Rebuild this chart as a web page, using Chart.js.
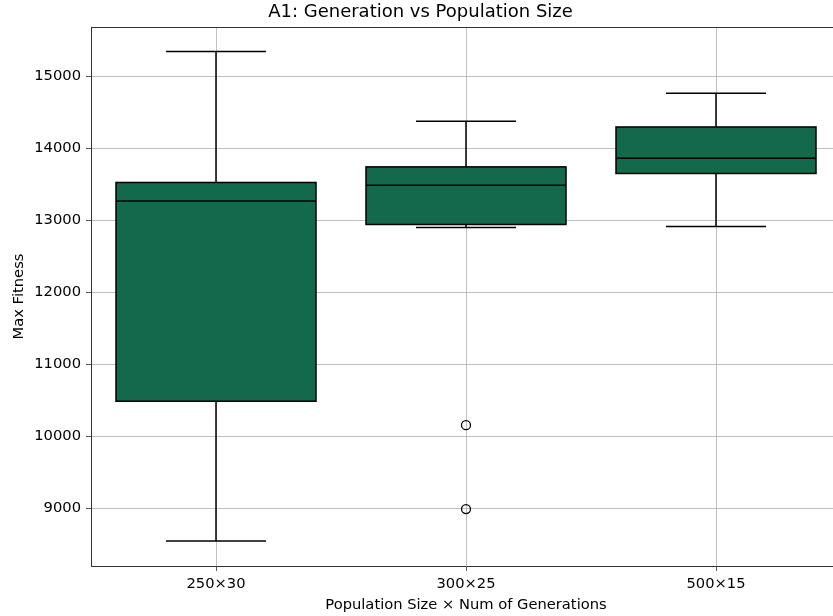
<!DOCTYPE html>
<html>
<head>
<meta charset="utf-8">
<script src="https://cdn.jsdelivr.net/npm/chart.js@4"></script>
<style>
  html, body { margin: 0; padding: 0; background: #fff; overflow: hidden; }
  #wrap { width: 850px; height: 616px; }
</style>
</head>
<body>
<div id="wrap"><canvas id="c" width="850" height="616"></canvas></div>
<script>
// Box plot of max fitness per population/generation configuration
const categories = ['250×30', '300×25', '500×15'];
const whiskerLow = [8542, 12903, 12917];
const q1 = [10486, 12944, 13653];
const median = [13270, 13490, 13865];
const q3 = [13528, 13745, 14300];
const whiskerHigh = [15350, 14380, 14768];
const outliers = [
  { x: '300×25', y: 10153 },
  { x: '300×25', y: 8986 }
];
const yTicks = [9000, 10000, 11000, 12000, 13000, 14000, 15000];

const FONT = 'DejaVu Sans';
const BOX_FILL = '#12694b';

// Whiskers, caps, median lines and box outlines drawn over the floating bars
const boxLines = {
  id: 'boxLines',
  afterDatasetsDraw(chart) {
    const { ctx, scales: { x, y } } = chart;
    const step = x.getPixelForValue(1) - x.getPixelForValue(0);
    const boxHalf = step * 0.4;
    const capHalf = step * 0.2;
    ctx.save();
    ctx.strokeStyle = '#000';
    ctx.lineWidth = 1.5;
    categories.forEach((c, i) => {
      const cx = x.getPixelForValue(i);
      const seg = (x0, y0, x1, y1) => {
        ctx.beginPath(); ctx.moveTo(x0, y0); ctx.lineTo(x1, y1); ctx.stroke();
      };
      seg(cx, y.getPixelForValue(q3[i]), cx, y.getPixelForValue(whiskerHigh[i]));
      seg(cx, y.getPixelForValue(q1[i]), cx, y.getPixelForValue(whiskerLow[i]));
      seg(cx - capHalf, y.getPixelForValue(whiskerHigh[i]), cx + capHalf, y.getPixelForValue(whiskerHigh[i]));
      seg(cx - capHalf, y.getPixelForValue(whiskerLow[i]), cx + capHalf, y.getPixelForValue(whiskerLow[i]));
      seg(cx - boxHalf, y.getPixelForValue(median[i]), cx + boxHalf, y.getPixelForValue(median[i]));
      const top = y.getPixelForValue(q3[i]);
      const bot = y.getPixelForValue(q1[i]);
      ctx.strokeRect(cx - boxHalf, top, boxHalf * 2, bot - top);
    });
    ctx.restore();
  }
};

// Top and right spines of the axes frame
const frame = {
  id: 'frame',
  afterDraw(chart) {
    const { ctx, chartArea: a } = chart;
    ctx.save();
    ctx.strokeStyle = '#333';
    ctx.lineWidth = 1;
    ctx.beginPath();
    ctx.moveTo(a.left, a.top + 0.5);
    ctx.lineTo(a.right, a.top + 0.5);
    ctx.lineTo(a.right - 0.5, a.bottom);
    ctx.stroke();
    ctx.restore();
  }
};

new Chart(document.getElementById('c'), {
  data: {
    labels: categories,
    datasets: [
      {
        type: 'bar',
        data: q1.map((v, i) => [v, q3[i]]),
        backgroundColor: BOX_FILL,
        borderWidth: 0,
        barPercentage: 0.8,
        categoryPercentage: 1.0,
        order: 2
      },
      {
        type: 'line',
        data: outliers,
        showLine: false,
        pointRadius: 4.5,
        pointBorderWidth: 1.3,
        pointBorderColor: '#000',
        pointBackgroundColor: 'rgba(0,0,0,0)',
        order: 1
      }
    ]
  },
  options: {
    responsive: false,
    animation: false,
    layout: { padding: { left: 0, right: 9, top: 0, bottom: 0 } },
    plugins: {
      legend: { display: false },
      tooltip: { enabled: false },
      title: {
        display: true,
        text: 'A1: Generation vs Population Size',
        color: '#000',
        font: { family: FONT, size: 18, weight: 'normal' },
        padding: { top: 2, bottom: 3.4 }
      }
    },
    scales: {
      x: {
        type: 'category',
        offset: true,
        grid: { offset: false, color: '#b0b0b0', lineWidth: 0.8, tickColor: '#333', tickLength: 5 },
        border: { color: '#333', width: 1 },
        ticks: { color: '#000', font: { family: FONT, size: 14.7 }, padding: 4, maxRotation: 0 },
        title: {
          display: true,
          text: 'Population Size × Num of Generations',
          color: '#000',
          font: { family: FONT, size: 14.7 },
          padding: { top: 0, bottom: 2 }
        },
        afterFit(s) { s.height = 50; }
      },
      y: {
        type: 'linear',
        min: 8195,
        max: 15690,
        afterBuildTicks(s) { s.ticks = yTicks.map(v => ({ value: v })); },
        grid: { color: '#b0b0b0', lineWidth: 0.8, tickColor: '#333', tickLength: 5 },
        border: { color: '#333', width: 1 },
        ticks: {
          color: '#000',
          font: { family: FONT, size: 14.7 },
          padding: 5,
          callback: v => String(v)
        },
        title: {
          display: true,
          text: 'Max Fitness',
          color: '#000',
          font: { family: FONT, size: 14.7 },
          padding: { top: 10, bottom: 0 }
        },
        afterFit(s) { s.width = 91; }
      }
    }
  },
  plugins: [boxLines, frame]
});
</script>
</body>
</html>
